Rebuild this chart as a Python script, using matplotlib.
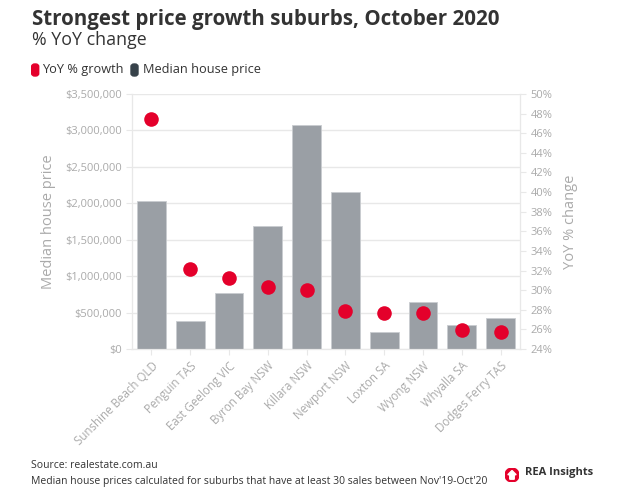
import matplotlib.pyplot as plt
from matplotlib.patches import FancyBboxPatch, Circle, Polygon
from matplotlib.ticker import FuncFormatter, MultipleLocator

suburbs = ["Sunshine Beach QLD", "Penguin TAS", "East Geelong VIC", "Byron Bay NSW",
           "Killara NSW", "Newport NSW", "Loxton SA", "Wyong NSW", "Whyalla SA",
           "Dodges Ferry TAS"]
median_price = [2030000, 390000, 775000, 1690000, 3075000, 2150000, 230000, 650000,
                325000, 420000]
yoy_growth = [47.45, 32.15, 31.2, 30.3, 30.0, 27.9, 27.7, 27.7, 25.9, 25.7]

RED = "#E4002B"
BAR = "#9A9FA5"
DARK = "#333333"
TICK = "#AAAAAA"
GRID = "#E8E8E8"

plt.rcParams['font.family'] = ['Open Sans', 'DejaVu Sans']

fig = plt.figure(figsize=(6.2, 4.93), dpi=100)
ax = fig.add_axes([132 / 620, 1 - 349 / 493, 388 / 620, 255 / 493])
ax2 = ax.twinx()

x = list(range(len(suburbs)))
ax.bar(x, median_price, width=0.74, color=BAR, edgecolor="#C9CCD0", linewidth=0.6, zorder=2)
ax2.scatter(x, yoy_growth, s=110, color=RED, zorder=3, linewidths=0)

ax.set_xlim(-0.5, len(suburbs) - 0.5)
ax.set_ylim(0, 3500000)
ax.yaxis.set_major_locator(MultipleLocator(500000))
ax.yaxis.set_major_formatter(FuncFormatter(lambda v, p: f"${v:,.0f}"))
ax.grid(axis="y", color=GRID, linewidth=1, zorder=0)
ax.set_axisbelow(True)

ax2.set_ylim(24, 50)
ax2.yaxis.set_major_locator(MultipleLocator(2))
ax2.yaxis.set_major_formatter(FuncFormatter(lambda v, p: f"{v:.0f}%"))

for a in (ax, ax2):
    for s in a.spines.values():
        s.set_color(GRID)
    a.spines["top"].set_visible(False)
    a.tick_params(colors=GRID, labelcolor=TICK, labelsize=8, length=4)

ax.set_xticks(x)
ax.set_xticklabels(suburbs, rotation=45, ha="right", rotation_mode="anchor", color=TICK, fontsize=8.3)
ax.set_ylabel("Median house price", color=TICK, fontsize=10.5, labelpad=6)
ax2.set_ylabel("YoY % change", color=TICK, fontsize=10.5, labelpad=8)

# header
fig.text(32 / 620, 1 - 20 / 493, "Strongest price growth suburbs, October 2020",
         fontsize=14.8, fontweight="bold", color=DARK, va="center")
fig.text(32 / 620, 1 - 40 / 493, "% YoY change", fontsize=12.8, color=DARK, va="center")

# legend
for lx, tx, col, label in [(31.7, 42, RED, "YoY % growth"), (131, 143, "#37424A", "Median house price")]:
    fig.patches.append(FancyBboxPatch((lx / 620, 1 - 76 / 493), 7 / 620, 12 / 493,
                                      boxstyle="round,pad=0,rounding_size=0.005",
                                      transform=fig.transFigure, color=col))
    fig.text(tx / 620, 1 - 70 / 493, label, fontsize=9.2, color=DARK, va="center")

# footer
fig.text(31 / 620, 1 - 466 / 493, "Source: realestate.com.au", fontsize=7.5, color=DARK, va="center")
fig.text(31 / 620, 1 - 481.5 / 493,
         "Median house prices calculated for suburbs that have at least 30 sales between Nov'19-Oct'20",
         fontsize=7.5, color=DARK, va="center")

# logo
logo = fig.add_axes([505 / 620, 1 - 482 / 493, 14 / 620, 14 / 493])
logo.set_xlim(0, 1)
logo.set_ylim(0, 1)
logo.set_aspect("equal")
logo.axis("off")
logo.add_patch(Circle((0.5, 0.5), 0.5, color=RED))
logo.add_patch(Polygon([(0.5, 0.82), (0.8, 0.52), (0.66, 0.52), (0.66, 0.2), (0.34, 0.2),
                        (0.34, 0.52), (0.2, 0.52)], color="white"))
fig.text(525 / 620, 1 - 473 / 493, "REA Insights", fontsize=8, fontweight="bold",
         color=DARK, va="center")

fig.savefig("out.png", dpi=100)
